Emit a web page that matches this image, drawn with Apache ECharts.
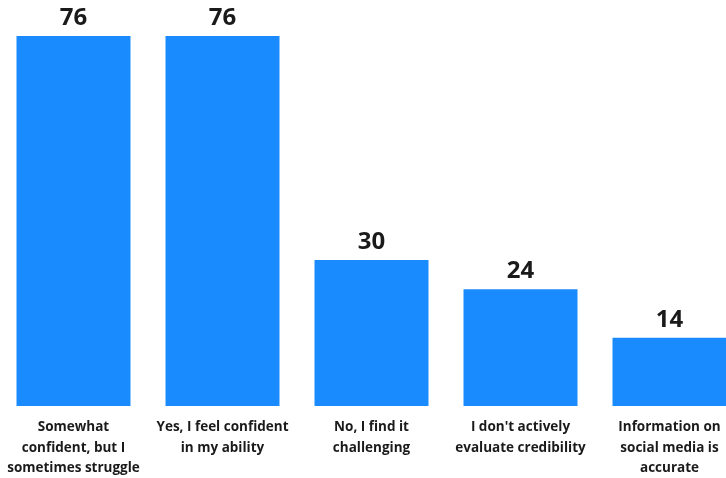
<!DOCTYPE html>
<html>
<head>
<meta charset="utf-8">
<script src="https://cdn.jsdelivr.net/npm/echarts@6/dist/echarts.min.js"></script>
<style>
  html, body { margin: 0; padding: 0; background: #ffffff; }
  #chart { width: 726px; height: 478px; }
</style>
</head>
<body>
<div id="chart"></div>
<script>
// Survey responses: confidence in evaluating information credibility
const categories = [
  'Somewhat\nconfident, but I\nsometimes struggle',
  'Yes, I feel confident\nin my ability',
  'No, I find it\nchallenging',
  "I don't actively\nevaluate credibility",
  'Information on\nsocial media is\naccurate'
];
const counts = [76, 76, 30, 24, 14];

const chart = echarts.init(document.getElementById('chart'));
chart.setOption({
  animation: false,
  grid: {
    left: -1, width: 745, top: 16.5, height: 389.5,
    containLabel: false,
    outerBoundsMode: 'none'
  },
  xAxis: {
    type: 'category',
    data: categories,
    axisLine: { show: false },
    axisTick: { show: false },
    axisLabel: {
      interval: 0,
      margin: 11,
      color: '#1a1a1a',
      fontFamily: 'Open Sans',
      fontWeight: 'bold',
      fontSize: 13.5,
      lineHeight: 20.5,
      align: 'center',
      hideOverlap: false
    }
  },
  yAxis: {
    type: 'value',
    min: 0,
    max: 80,
    show: false,
    splitLine: { show: false }
  },
  series: [{
    type: 'bar',
    data: counts,
    barCategoryGap: '23.5%',
    itemStyle: { color: '#1a8aff' },
    label: {
      show: true,
      position: 'top',
      distance: 6,
      color: '#1a1a1a',
      fontFamily: 'Open Sans',
      fontWeight: 'bold',
      fontSize: 24
    }
  }]
});
</script>
</body>
</html>
